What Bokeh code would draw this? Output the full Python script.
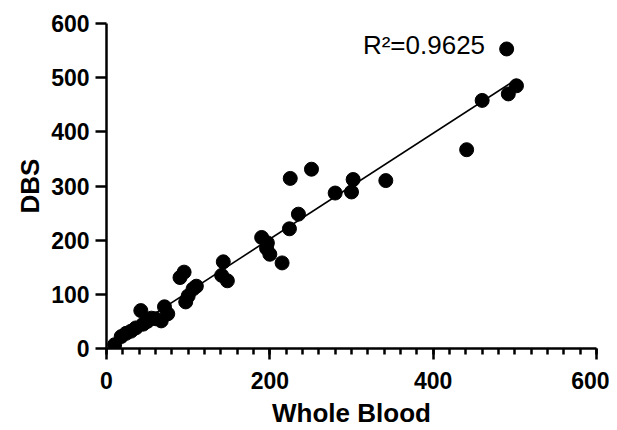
import numpy as np
from bokeh.plotting import figure
from bokeh.models import Range1d, SingleIntervalTicker, Label, ColumnDataSource
from bokeh.embed import file_html
from bokeh.resources import INLINE

# Data
whole_blood = [10, 18, 24, 30, 36, 42, 45, 50, 55, 60, 67, 71, 75,
               90, 95, 97, 100, 106, 110, 141, 143, 148,
               190, 197, 196, 200, 215, 224, 225, 235, 251,
               280, 300, 302, 342, 441, 460, 490, 492, 502]
dbs = [7, 22, 28, 32, 38, 70, 45, 50, 56, 55, 51, 77, 64,
       131, 141, 86, 97, 110, 115, 135, 160, 125,
       205, 195, 185, 174, 158, 221, 314, 248, 331,
       287, 289, 312, 310, 367, 458, 553, 470, 485]
r2_text = "R\u00b2=0.9625"

FONT = "Liberation Sans"

p = figure(width=609, height=430, output_backend="svg", toolbar_location=None,
           x_range=Range1d(0, 600), y_range=Range1d(0, 600),
           min_border_left=106, min_border_right=13, min_border_top=23, min_border_bottom=82)
p.outline_line_color = None
p.xgrid.visible = False
p.ygrid.visible = False

# regression line fitted to the data
x = np.array(whole_blood, dtype=float)
y = np.array(dbs, dtype=float)
slope, intercept = np.polyfit(x, y, 1)
xl = np.array([x.min(), x.max()])
p.line(xl, slope * xl + intercept, line_color="black", line_width=1.6)

src = ColumnDataSource(dict(x=whole_blood, y=dbs))
p.scatter("x", "y", source=src, size=14, fill_color="black", line_color="black")

p.xaxis.ticker = SingleIntervalTicker(interval=200, num_minor_ticks=10)
p.yaxis.ticker = SingleIntervalTicker(interval=100, num_minor_ticks=0)

for ax in (p.xaxis[0], p.yaxis[0]):
    ax.axis_line_width = 2.5
    ax.axis_line_color = "black"
    ax.major_tick_line_width = 2.5
    ax.major_tick_line_color = "black"
    ax.minor_tick_line_width = 2.5
    ax.minor_tick_line_color = "black"
    ax.major_tick_in = 0
    ax.major_tick_out = 11
    ax.minor_tick_in = 0
    ax.major_label_text_font = FONT
    ax.major_label_text_font_style = "bold"
    ax.major_label_text_font_size = "23px"
    ax.major_label_text_color = "black"
    ax.axis_label_text_font = FONT
    ax.axis_label_text_font_style = "bold"
    ax.axis_label_text_font_size = "26px"
    ax.axis_label_text_color = "black"

p.xaxis.minor_tick_out = 6
p.yaxis.minor_tick_out = 0
p.xaxis.axis_label = "Whole Blood"
p.yaxis.axis_label = "DBS"
p.xaxis.major_label_standoff = 12
p.yaxis.major_label_standoff = 6
p.xaxis.axis_label_standoff = 6
p.yaxis.axis_label_standoff = 3

p.add_layout(Label(x=314, y=561, text=r2_text, text_font=FONT, text_font_size="26px",
                   text_color="black", text_baseline="alphabetic"))

open("out.html", "w").write(file_html(p, INLINE))
